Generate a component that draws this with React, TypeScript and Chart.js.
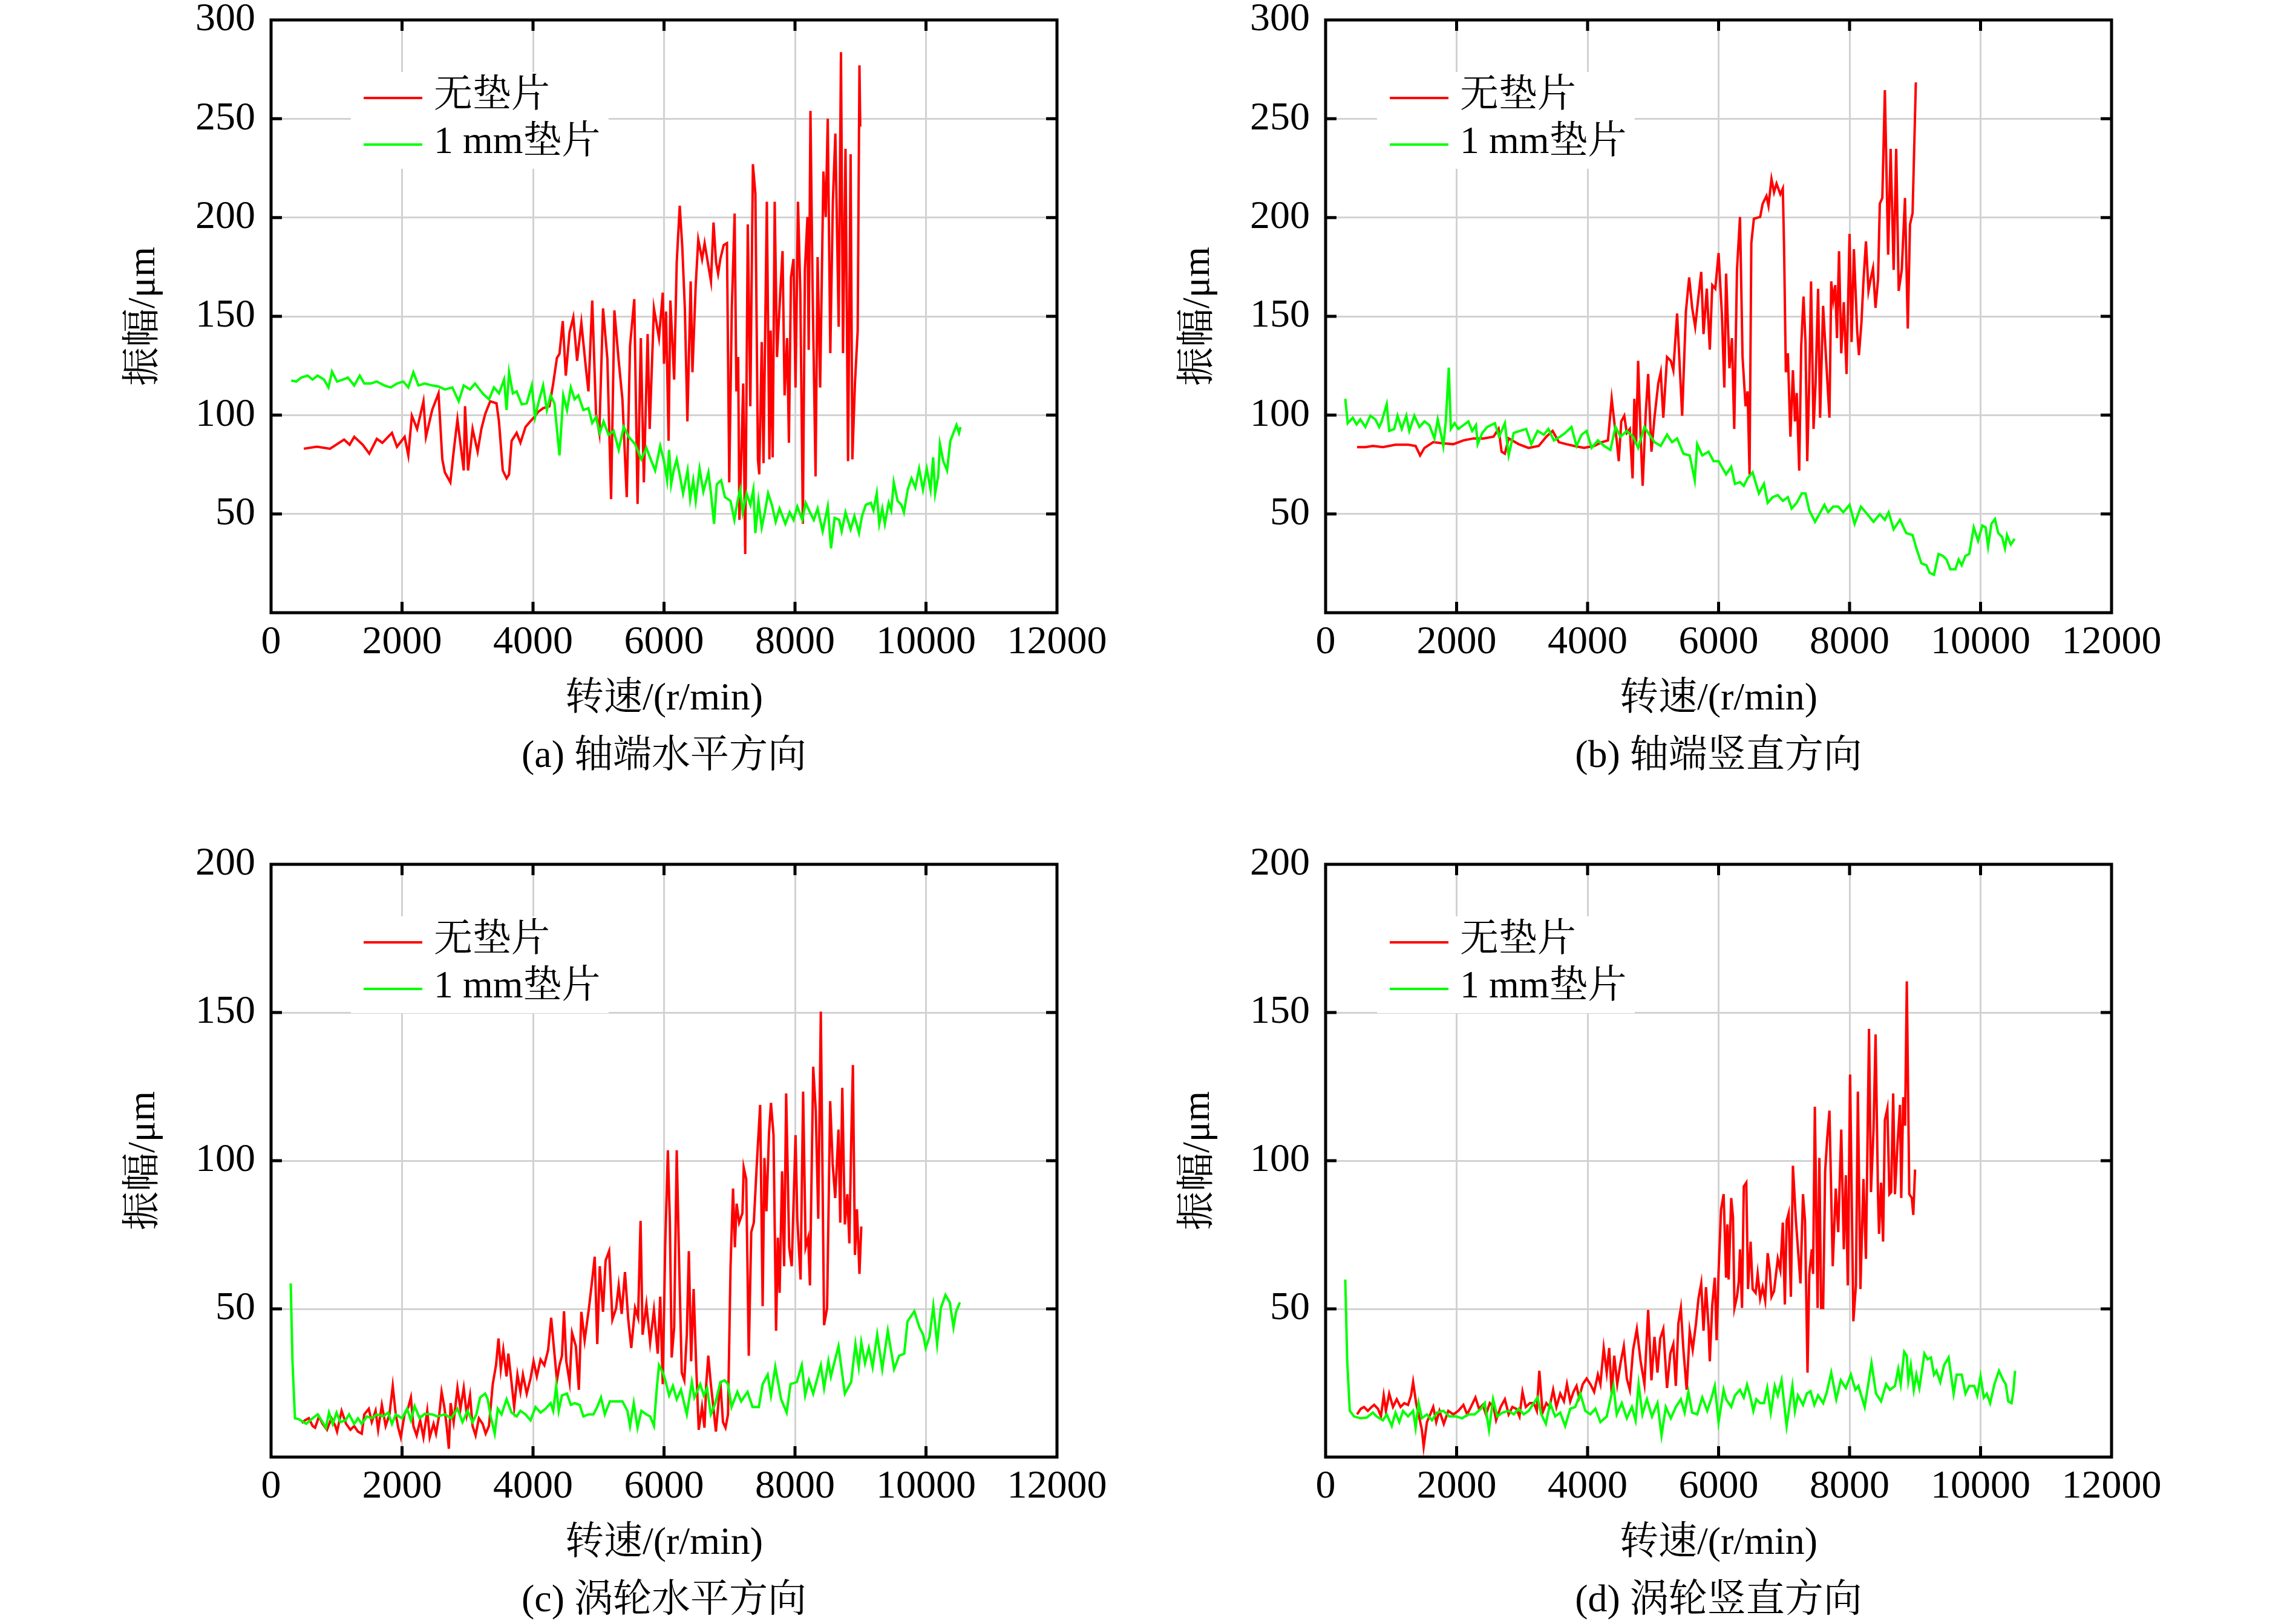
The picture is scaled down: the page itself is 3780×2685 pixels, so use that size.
import React, { useEffect, useRef } from 'react';
import { Chart, registerables } from 'chart.js';

Chart.register(...registerables);

// values: rotating speed (r/min) and amplitude (μm)

// (a) shaft end, horizontal
const A_RED_RPM = [500, 700, 900, 1115, 1200, 1270, 1400, 1500, 1615, 1700, 1846, 1923, 2040, 2096, 2150, 2230, 2327, 2365, 2460, 2557, 2615, 2654, 2738, 2788, 2846, 2942, 2962, 3008, 3077, 3154, 3211, 3270, 3346, 3442, 3480, 3538, 3596, 3634, 3673, 3750, 3808, 3885, 3962, 4019, 4077, 4154, 4250, 4308, 4365, 4404, 4454, 4500, 4558, 4615, 4673, 4738, 4808, 4846, 4904, 4962, 5012, 5069, 5135, 5192, 5242, 5308, 5365, 5431, 5481, 5546, 5596, 5646, 5692, 5750, 5781, 5846, 5923, 5981, 6000, 6031, 6070, 6097, 6155, 6194, 6240, 6279, 6318, 6357, 6407, 6434, 6484, 6523, 6581, 6620, 6678, 6717, 6756, 6795, 6826, 6860, 6911, 6961, 6996, 7035, 7078, 7105, 7132, 7151, 7182, 7209, 7240, 7279, 7318, 7357, 7395, 7434, 7454, 7492, 7519, 7570, 7609, 7628, 7659, 7690, 7725, 7775, 7810, 7841, 7880, 7907, 7938, 7977, 8008, 8046, 8081, 8120, 8151, 8190, 8209, 8236, 8267, 8314, 8345, 8384, 8434, 8469, 8500, 8539, 8578, 8616, 8667, 8702, 8733, 8771, 8810, 8849, 8876, 8915, 8957, 8984, 8996];
const A_RED_AMP = [83, 84, 83, 87.6, 85, 89, 85, 80.5, 88, 86, 91, 84, 89, 79.6, 99.7, 93, 107, 89, 102.6, 111, 77.6, 71, 66, 81.5, 97.8, 72, 104.5, 72, 93, 81.5, 93, 100.6, 107, 106, 96.8, 72, 68, 70, 87, 91, 86, 94, 97, 99, 101.6, 103.5, 104.5, 116, 129, 131, 147.6, 120, 142, 149.5, 127.5, 146.7, 123.6, 112, 158, 100.6, 91, 154, 128.5, 57.5, 153, 127.5, 108, 58.5, 135, 158.7, 55, 139, 66, 141, 93, 154, 139, 162, 126, 152.4, 87, 158, 118, 177.3, 206, 185, 154, 96.8, 167.7, 121.7, 165.8, 188.8, 179, 187, 175.4, 167.7, 197.5, 177.3, 171.6, 179, 186, 187, 66, 154, 202, 112, 129.4, 47, 81.5, 116, 29.7, 196.5, 104.5, 227, 212, 77.6, 70, 137, 75.7, 208, 77.6, 142.8, 78.6, 208, 129.4, 162, 183, 110, 139, 86, 169.7, 179, 114, 208, 162, 45, 173.5, 200.3, 133, 254, 167.7, 69, 180, 114, 223.3, 200.3, 250, 131.3, 208, 242.5, 144.7, 283.7, 131.3, 234.8, 76.7, 232, 77.6, 116, 142.8, 277, 246];
const A_GREEN_RPM = [308, 385, 460, 558, 635, 711, 808, 877, 931, 1008, 1096, 1173, 1270, 1354, 1423, 1519, 1615, 1731, 1827, 1923, 2019, 2096, 2173, 2250, 2346, 2461, 2557, 2654, 2769, 2865, 2942, 3038, 3115, 3231, 3327, 3404, 3481, 3558, 3596, 3634, 3692, 3750, 3827, 3904, 3981, 4031, 4096, 4154, 4212, 4269, 4327, 4404, 4462, 4519, 4577, 4635, 4692, 4769, 4846, 4904, 4962, 5019, 5077, 5154, 5231, 5308, 5385, 5462, 5558, 5654, 5731, 5808, 5865, 5942, 6000, 6047, 6078, 6109, 6147, 6194, 6233, 6291, 6360, 6399, 6446, 6484, 6543, 6601, 6678, 6717, 6764, 6806, 6872, 6930, 7015, 7074, 7124, 7163, 7202, 7260, 7318, 7364, 7395, 7442, 7492, 7539, 7589, 7647, 7705, 7764, 7853, 7919, 7977, 8035, 8112, 8163, 8229, 8287, 8345, 8422, 8500, 8550, 8605, 8674, 8713, 8771, 8849, 8907, 8977, 9023, 9081, 9159, 9198, 9248, 9287, 9333, 9372, 9430, 9469, 9508, 9566, 9624, 9663, 9721, 9779, 9837, 9895, 9954, 10012, 10070, 10109, 10140, 10186, 10213, 10264, 10322, 10372, 10419, 10465, 10504, 10527];
const A_GREEN_AMP = [117.5, 117, 119, 120, 118, 120, 118, 114, 122, 117, 118, 119, 115, 120, 116, 116, 117, 115, 114, 116, 117, 114, 121.7, 115, 116, 115, 114.5, 113, 114, 107, 115, 113, 116, 111, 108, 114, 111, 118, 102.6, 121.7, 111, 112, 105.5, 106, 115, 99, 108, 115, 102.6, 110, 106, 79.6, 110, 102.6, 114, 108, 110, 102.6, 103.5, 96, 99, 91, 96.8, 90, 92, 82.4, 94, 89, 85.3, 77.6, 83.4, 76.7, 72, 84.4, 76.7, 67, 82.4, 65, 72, 77.6, 71, 60.4, 72, 57.5, 67, 56.6, 72.9, 61.3, 71, 60.4, 45, 65, 67, 58.5, 56.6, 47, 56.6, 62.3, 50.8, 60.4, 54.6, 62.3, 40.3, 56.6, 43.2, 50.8, 60.4, 54.6, 46, 52.7, 45, 50.8, 47, 53.7, 47, 55.6, 50.8, 47, 52.7, 41.2, 53.7, 32.6, 48, 47, 41.2, 50.8, 42.2, 48.9, 40.3, 48.9, 54.6, 55.6, 51.8, 60.4, 45, 52.7, 45, 55.6, 51.8, 66, 56.6, 54.6, 50.8, 62.3, 68, 63.3, 72.9, 62.3, 72.9, 62.3, 78.6, 60.4, 69, 85.3, 76.7, 72, 87, 91, 95, 91, 94];

// (b) shaft end, vertical
const B_RED_RPM = [480, 607, 722, 875, 1067, 1259, 1374, 1443, 1509, 1643, 1797, 1950, 2104, 2257, 2411, 2564, 2641, 2687, 2737, 2795, 2948, 3100, 3255, 3370, 3466, 3562, 3677, 3793, 3946, 4100, 4215, 4311, 4368, 4407, 4445, 4476, 4514, 4560, 4599, 4645, 4687, 4714, 4741, 4772, 4810, 4841, 4887, 4925, 4975, 5021, 5079, 5117, 5156, 5213, 5271, 5309, 5367, 5444, 5501, 5551, 5597, 5643, 5693, 5735, 5770, 5820, 5866, 5904, 5950, 6000, 6050, 6088, 6115, 6166, 6204, 6239, 6281, 6327, 6366, 6412, 6443, 6473, 6500, 6539, 6635, 6673, 6731, 6762, 6808, 6847, 6885, 6943, 6981, 7000, 7027, 7058, 7097, 7135, 7166, 7193, 7231, 7262, 7297, 7327, 7354, 7385, 7412, 7450, 7481, 7520, 7550, 7596, 7643, 7693, 7720, 7750, 7781, 7808, 7839, 7873, 7912, 7954, 8000, 8031, 8066, 8116, 8143, 8181, 8212, 8250, 8289, 8327, 8358, 8396, 8435, 8462, 8500, 8539, 8589, 8627, 8673, 8712, 8750, 8797, 8846, 8889, 8923, 8962, 9012];
const B_RED_AMP = [83.8, 83.8, 84.4, 83.8, 85, 85, 84.4, 79.6, 83.4, 86.3, 85.7, 85.3, 87.2, 88.2, 88.2, 89.1, 93, 81.5, 80.5, 88.2, 85.3, 83.4, 84.4, 89.1, 92, 86.3, 85.3, 84.4, 83.4, 84.4, 86.3, 87.2, 108.3, 96.8, 87.2, 76.7, 96.8, 99.7, 91, 93, 68, 108.3, 85.3, 127.5, 89.1, 64.2, 100.6, 120.8, 81.5, 98.7, 116, 121.7, 98.7, 129.4, 127.5, 122.7, 151.4, 99.7, 152.4, 169.7, 154.3, 144.7, 160, 172.5, 141, 164, 133.2, 165.8, 164, 182, 151.4, 114, 171.6, 123.7, 139, 93, 173.5, 200.3, 129.4, 104.5, 112, 70, 187, 199.4, 200.3, 207, 210.9, 206, 219.5, 212.8, 217.2, 211.8, 214.7, 185, 121.7, 131.3, 89.1, 122.7, 96.8, 111.2, 71.9, 135.2, 160, 137, 76.7, 117.9, 167.7, 93, 116, 163.9, 98.7, 155.3, 127.5, 98.7, 167.7, 158, 165.8, 139, 183, 131.3, 157.2, 120.8, 191.7, 137, 184, 142.8, 130.4, 146.7, 167.7, 187.9, 162.9, 169.7, 174.4, 154.3, 168.7, 207, 209.9, 264.5, 181.2, 234.8, 173.5, 234.8, 162.9, 173.5, 209.9, 143.8, 196.5, 202.2, 268.4];
const B_GREEN_RPM = [300, 338, 415, 472, 530, 607, 683, 760, 818, 856, 933, 971, 1048, 1098, 1163, 1232, 1278, 1355, 1432, 1509, 1585, 1662, 1712, 1758, 1797, 1835, 1881, 1912, 1969, 2027, 2104, 2180, 2238, 2295, 2322, 2392, 2468, 2584, 2649, 2737, 2795, 2872, 2967, 3063, 3140, 3236, 3332, 3401, 3486, 3581, 3658, 3754, 3831, 3908, 3985, 4061, 4157, 4253, 4349, 4426, 4503, 4599, 4695, 4772, 4868, 4944, 5021, 5117, 5213, 5290, 5367, 5463, 5559, 5636, 5674, 5751, 5847, 5923, 6000, 6115, 6193, 6250, 6327, 6385, 6443, 6520, 6616, 6693, 6750, 6827, 6904, 6981, 7058, 7116, 7193, 7270, 7327, 7385, 7473, 7539, 7616, 7673, 7750, 7827, 7904, 8000, 8077, 8173, 8270, 8366, 8462, 8539, 8596, 8673, 8770, 8866, 8962, 9020, 9097, 9173, 9223, 9289, 9358, 9423, 9481, 9539, 9616, 9666, 9712, 9770, 9827, 9896, 9962, 10027, 10077, 10116, 10166, 10220, 10270, 10327, 10373, 10404, 10462, 10520];
const B_GREEN_AMP = [108.3, 95.9, 98.7, 95.3, 97.8, 94, 99.7, 97.8, 94, 96.8, 105.5, 92, 93, 99.7, 93, 99.7, 92, 99.7, 94, 96.8, 94.9, 88.2, 97.8, 91, 84.4, 96.8, 124, 93, 95.9, 93, 94.9, 96.8, 92, 94.9, 85.3, 91, 94, 95.9, 89.1, 95.9, 79.6, 91, 92, 93, 85.3, 92, 90.1, 93, 87.2, 89.1, 91, 94, 84.4, 90.1, 92, 83.4, 87.2, 84.4, 82.4, 94, 89.1, 92, 89.1, 83.4, 94, 90.1, 86.3, 84.4, 90.1, 86.3, 88.2, 80.5, 79.6, 67.1, 85.3, 79.6, 81.5, 76.7, 76.7, 70, 73.8, 65.2, 66.1, 64.2, 68.1, 71, 60.4, 65.2, 55.6, 58.5, 59.5, 56.6, 58.5, 52.7, 55.6, 60.4, 60.4, 51.8, 46, 49.9, 54.6, 50.8, 53.7, 53.7, 50.8, 54.6, 45, 53.7, 49.9, 46, 49.9, 47, 50.8, 42.2, 47, 40.3, 39.3, 32.6, 25, 24, 20.2, 19.2, 29.7, 28.8, 26.9, 22, 22, 26.9, 24, 28.8, 29.7, 43.2, 36.4, 44.1, 43.2, 33.6, 45, 47.4, 40.3, 38.4, 32.6, 39.3, 34.5, 37.4];

// (c) turbine end, horizontal
const C_RED_RPM = [469, 519, 577, 635, 673, 731, 788, 854, 923, 981, 1008, 1077, 1146, 1212, 1269, 1327, 1385, 1423, 1492, 1538, 1596, 1635, 1692, 1750, 1808, 1858, 1904, 1942, 1981, 2038, 2096, 2135, 2173, 2223, 2277, 2327, 2385, 2423, 2481, 2519, 2569, 2604, 2646, 2681, 2715, 2742, 2788, 2846, 2892, 2942, 2988, 3038, 3077, 3123, 3173, 3231, 3277, 3327, 3385, 3435, 3473, 3508, 3546, 3596, 3623, 3662, 3712, 3762, 3808, 3846, 3904, 3962, 4008, 4058, 4115, 4173, 4231, 4277, 4327, 4365, 4404, 4442, 4473, 4508, 4558, 4596, 4654, 4700, 4738, 4788, 4854, 4904, 4942, 4981, 5019, 5069, 5108, 5162, 5212, 5269, 5308, 5354, 5404, 5454, 5500, 5558, 5604, 5642, 5673, 5731, 5788, 5846, 5904, 5942, 5981, 6019, 6059, 6089, 6117, 6155, 6194, 6232, 6271, 6310, 6348, 6379, 6414, 6452, 6491, 6530, 6580, 6618, 6645, 6676, 6715, 6753, 6792, 6831, 6861, 6900, 6939, 6977, 7016, 7054, 7082, 7109, 7147, 7197, 7217, 7255, 7294, 7332, 7371, 7417, 7468, 7506, 7533, 7564, 7603, 7633, 7672, 7711, 7738, 7765, 7803, 7834, 7865, 7911, 7950, 8008, 8035, 8085, 8124, 8162, 8201, 8228, 8278, 8317, 8355, 8394, 8444, 8490, 8537, 8575, 8614, 8664, 8691, 8722, 8761, 8799, 8830, 8857, 8884, 8915, 8946, 8984, 9012];
const C_RED_AMP = [11.5, 12.4, 13.1, 10.5, 9.9, 13.7, 11.2, 9.2, 13.1, 10.5, 8.6, 15.6, 11.2, 9.2, 10.5, 8.6, 7.9, 14.4, 16.3, 11.8, 15.6, 9.2, 17.6, 10.5, 14.4, 24, 14.4, 9.9, 6.7, 14.4, 16.9, 20.1, 10.5, 7.3, 12.4, 6.7, 15.6, 6.7, 11.2, 7.9, 14.4, 22, 16.9, 10.5, 2.8, 18.2, 11.8, 23.3, 16.3, 23.3, 14.4, 20.8, 10.5, 7.3, 13.1, 11.2, 7.9, 10.5, 24.6, 31, 40, 29.7, 36.2, 27.2, 34.9, 27.2, 16.9, 27.8, 22, 27.8, 21.4, 26.5, 32.3, 27.2, 32.9, 31, 36.2, 47, 34.9, 25.9, 31, 34.2, 49.2, 32.3, 25.3, 41.9, 37.4, 22.7, 49, 39.4, 50.3, 59.9, 67.6, 38.1, 64.4, 49, 66.3, 69.5, 46.4, 50.3, 57.9, 48.3, 62.4, 46.4, 36.8, 50.3, 47, 79.7, 41.3, 51.5, 38.7, 49.6, 34.9, 54.1, 24.6, 72.1, 103.5, 79.7, 33.6, 43.8, 103.5, 64.4, 28.5, 25.9, 41.3, 69.5, 32.3, 56.7, 31, 9.2, 16.9, 9.9, 24.6, 34.2, 24.6, 16.9, 8.6, 18.2, 25.3, 11.8, 9.9, 14.4, 64.4, 90.6, 70.8, 85.5, 79.1, 82.3, 97.7, 93.8, 34.2, 75.9, 79.1, 99, 118.8, 50.9, 100.9, 82.9, 109.2, 119.5, 108.6, 42.6, 74, 55.4, 96.4, 64.4, 122.7, 70.8, 64.4, 108.6, 80.4, 59.9, 123.3, 70.8, 74, 57.9, 131.7, 116.9, 80.4, 150.3, 44.5, 50.3, 120.1, 99, 87.4, 110.5, 79.1, 124.6, 78.5, 88.7, 72.1, 105.4, 132.3, 68.2, 83.6, 61.8, 77.8];
const C_GREEN_RPM = [300, 327, 365, 423, 538, 635, 711, 788, 838, 885, 942, 1000, 1058, 1135, 1192, 1269, 1327, 1385, 1462, 1538, 1615, 1712, 1788, 1846, 1904, 2000, 2077, 2135, 2192, 2269, 2346, 2462, 2538, 2654, 2750, 2846, 2923, 3000, 3077, 3135, 3192, 3269, 3308, 3354, 3415, 3462, 3519, 3596, 3673, 3750, 3808, 3885, 3962, 4038, 4115, 4192, 4269, 4308, 4354, 4392, 4442, 4519, 4577, 4635, 4712, 4769, 4846, 4923, 4981, 5038, 5096, 5173, 5269, 5365, 5442, 5481, 5538, 5596, 5654, 5731, 5788, 5846, 5885, 5923, 5981, 6019, 6078, 6136, 6194, 6259, 6348, 6425, 6464, 6553, 6607, 6657, 6715, 6784, 6861, 6927, 6977, 7031, 7120, 7178, 7275, 7352, 7448, 7506, 7583, 7633, 7699, 7788, 7873, 7931, 8027, 8104, 8155, 8212, 8278, 8394, 8444, 8510, 8548, 8598, 8664, 8761, 8857, 8923, 8973, 9012, 9069, 9127, 9185, 9255, 9332, 9417, 9513, 9590, 9668, 9718, 9822, 9899, 9957, 9996, 10054, 10112, 10170, 10227, 10297, 10363, 10420, 10459, 10517];
const C_GREEN_AMP = [58.6, 32.3, 13.1, 12.8, 11.2, 13.1, 14.4, 11.8, 9.9, 15, 11.2, 15, 11.8, 12.4, 14.4, 11.2, 13.1, 11.2, 13.7, 13.1, 14.4, 13.7, 15, 11.2, 14.4, 13.1, 16.3, 12.4, 17.2, 13.1, 14.6, 14.4, 13.7, 14.4, 13.1, 16.3, 11.8, 15.6, 11.8, 14.4, 20.1, 21.4, 19.5, 13.7, 7.9, 16.3, 14.4, 19.5, 15, 13.7, 15.6, 14.4, 12.4, 16.9, 15, 16.3, 18.2, 15.6, 24, 15.6, 20.8, 21.4, 17.6, 18.2, 17.6, 13.7, 14.4, 14.4, 16.9, 20.1, 14.4, 18.8, 18.8, 18.8, 15.6, 10.5, 18.2, 9.9, 15.6, 14.4, 13.7, 10.5, 22, 31, 28.5, 25.9, 20.8, 24, 19.5, 22.7, 14.4, 25.3, 20.1, 24.6, 20.8, 23.3, 14.4, 18.2, 25.3, 25.9, 24.6, 16.9, 22, 18.8, 22, 16.9, 16.9, 24.6, 27.8, 20.8, 30.4, 19.5, 15, 24.6, 25.3, 31, 20.8, 25.9, 21.4, 31, 23.3, 32.3, 27.2, 31.7, 37.4, 21.4, 25.3, 38.1, 30.4, 38.7, 31.7, 36.8, 30.4, 41.3, 29.7, 42.6, 29.7, 34.2, 34.9, 45.8, 49.2, 43.8, 41.3, 36.8, 40.6, 50.9, 38.1, 50.3, 54.7, 52.2, 43.8, 49, 52.2];

// (d) turbine end, vertical
const D_RED_RPM = [480, 538, 587, 645, 702, 741, 799, 845, 887, 921, 971, 1029, 1086, 1144, 1202, 1259, 1305, 1336, 1382, 1432, 1470, 1497, 1547, 1597, 1643, 1689, 1739, 1804, 1873, 1950, 2027, 2104, 2161, 2219, 2288, 2342, 2399, 2449, 2507, 2564, 2603, 2672, 2737, 2795, 2852, 2910, 2960, 3006, 3056, 3121, 3178, 3225, 3263, 3313, 3370, 3420, 3474, 3524, 3582, 3639, 3685, 3735, 3785, 3831, 3870, 3927, 3985, 4042, 4100, 4157, 4196, 4246, 4292, 4330, 4368, 4407, 4453, 4503, 4553, 4599, 4645, 4695, 4752, 4810, 4868, 4925, 4975, 5021, 5067, 5109, 5156, 5213, 5263, 5309, 5347, 5386, 5424, 5463, 5513, 5559, 5605, 5655, 5693, 5735, 5770, 5808, 5847, 5866, 5904, 5942, 5970, 6000, 6038, 6077, 6115, 6135, 6154, 6193, 6220, 6243, 6281, 6308, 6327, 6358, 6385, 6423, 6450, 6489, 6520, 6566, 6597, 6635, 6673, 6712, 6750, 6781, 6808, 6847, 6904, 6943, 6981, 7012, 7039, 7070, 7104, 7135, 7181, 7250, 7289, 7320, 7358, 7385, 7423, 7443, 7470, 7512, 7539, 7566, 7597, 7627, 7658, 7693, 7743, 7789, 7827, 7873, 7912, 7943, 7973, 8008, 8058, 8097, 8127, 8166, 8212, 8250, 8297, 8327, 8366, 8397, 8435, 8450, 8481, 8512, 8539, 8577, 8608, 8635, 8666, 8693, 8731, 8770, 8789, 8820, 8847, 8874, 8912, 8950, 8973, 9000];
const D_RED_AMP = [14.4, 16.3, 16.9, 15.6, 16.9, 17.6, 16.3, 13.7, 20.8, 15.6, 21.4, 16.9, 19.5, 16.9, 18.2, 17.6, 20.8, 25.3, 18.2, 13.1, 9.2, 3.5, 11.8, 14.4, 16.9, 11.8, 15.6, 11.2, 15.6, 14.4, 15.6, 17.6, 14.4, 16.9, 20.1, 16.3, 17.6, 14.4, 18.2, 16.9, 12.4, 16.9, 19.5, 14.4, 16.9, 16.3, 13.7, 22, 16.9, 18.2, 18.2, 15.6, 29.1, 15, 18.2, 16.9, 22.7, 16.9, 21.4, 18.8, 24.6, 18.8, 22, 24, 20.1, 24.6, 26.5, 24.6, 22, 27.8, 24.6, 36.8, 28.5, 36.8, 21.4, 34.2, 24.6, 31.7, 37.4, 26.5, 22.7, 36.2, 43.2, 32.3, 24.6, 49.6, 25.9, 40.6, 28.5, 40, 43.2, 23.3, 34.9, 38.1, 24, 45.1, 50.3, 36.2, 22.7, 42.6, 36.2, 45.1, 53.5, 58.6, 42.6, 57.3, 43.8, 32.3, 51.5, 60.5, 39.4, 62.4, 83.6, 88.7, 60.5, 78.5, 59.9, 87.4, 81, 50.3, 54.1, 59.2, 70.1, 50.3, 91.3, 92.6, 56.7, 72.7, 56.7, 55.4, 61.8, 53.5, 57.3, 52.8, 68.8, 63.1, 54.1, 56, 66.9, 63.1, 79.1, 51.5, 79.7, 82.3, 54.1, 98.3, 79.7, 58.6, 88.7, 79.7, 28.5, 61.8, 70.1, 61.8, 118.2, 50.3, 100.9, 50.3, 50.3, 96.4, 107.3, 116.9, 64.4, 90.6, 75.9, 110.5, 70.1, 95.1, 57.9, 129.1, 45.8, 57.9, 123.3, 56.7, 93.8, 66.9, 144.5, 89.4, 110.5, 142.6, 87.4, 75.3, 92.6, 72.7, 113.7, 117.6, 88.7, 89.4, 122.7, 88.7, 105.4, 118.8, 87.4, 121.4, 111.8, 160.5, 88.7, 87.4, 81.7, 97];
const D_GREEN_RPM = [300, 330, 369, 434, 530, 626, 722, 779, 875, 933, 1010, 1067, 1125, 1182, 1259, 1336, 1374, 1420, 1470, 1547, 1624, 1700, 1797, 1892, 1989, 2084, 2180, 2276, 2372, 2430, 2495, 2557, 2622, 2699, 2795, 2872, 2948, 3025, 3102, 3178, 3236, 3294, 3363, 3428, 3505, 3582, 3658, 3735, 3812, 3889, 3965, 4042, 4119, 4196, 4292, 4349, 4395, 4445, 4522, 4599, 4676, 4733, 4779, 4837, 4906, 4983, 5067, 5129, 5194, 5271, 5348, 5424, 5482, 5539, 5597, 5674, 5751, 5827, 5885, 5942, 6000, 6077, 6115, 6193, 6250, 6327, 6385, 6435, 6481, 6531, 6577, 6635, 6693, 6743, 6797, 6858, 6904, 6962, 7039, 7127, 7166, 7212, 7289, 7347, 7404, 7462, 7520, 7597, 7654, 7720, 7797, 7866, 7943, 8020, 8089, 8135, 8231, 8335, 8404, 8481, 8558, 8616, 8693, 8743, 8781, 8835, 8873, 8897, 8935, 8981, 9020, 9066, 9143, 9193, 9243, 9289, 9327, 9385, 9443, 9512, 9589, 9635, 9712, 9770, 9827, 9904, 9950, 10000, 10050, 10096, 10146, 10212, 10281, 10347, 10385, 10423, 10473, 10500, 10527];
const D_GREEN_AMP = [59.9, 32.3, 15.6, 13.7, 13.1, 13.3, 15, 13.7, 12.4, 14.4, 10.5, 15, 11.8, 15.6, 13.7, 15.6, 9.9, 18.2, 13.1, 14.4, 12.4, 15, 15.6, 13.7, 13.7, 13.1, 14.4, 14.4, 16.3, 18.2, 9.2, 19.5, 13.7, 15, 15.6, 14.4, 16.3, 14.4, 15.6, 18.2, 20.1, 14.4, 11.2, 18.2, 13.7, 15, 10.5, 16.3, 16.9, 21.4, 15.6, 14.4, 16.3, 11.8, 13.7, 19.5, 24, 14.4, 18.2, 13.1, 16.9, 12.4, 24.6, 14.4, 19.5, 13.7, 18.2, 7.3, 16.9, 13.1, 16.9, 19.5, 15, 22, 15, 14.4, 20.1, 15.6, 19.5, 24, 11.8, 22.7, 19.5, 16.9, 20.8, 22.7, 20.1, 24.4, 20.8, 15.6, 19.5, 18.2, 18.2, 23.3, 15, 24, 20.8, 25.9, 10.5, 24, 15.6, 20.8, 17.6, 21.4, 22.2, 17.6, 20.8, 18.2, 22, 28.5, 19.5, 25.9, 23.3, 27.8, 22.7, 24, 16.9, 31.7, 21.4, 18.8, 24.6, 22.7, 24, 29.7, 24.6, 35.5, 34.2, 25.9, 31, 22.7, 27.8, 23.3, 34.9, 33, 33.6, 27.8, 29.1, 25.3, 31, 33.6, 21.4, 27.8, 27.8, 21.4, 24, 24, 20.8, 27.2, 20.1, 21.4, 18.2, 24.6, 29.1, 25.9, 24.6, 18.8, 18.2, 22, 29.1];

const SERIES_LABELS = ['无垫片', '1 mm垫片'];
const CAPTIONS = ['(a) 轴端水平方向', '(b) 轴端竖直方向', '(c) 涡轮水平方向', '(d) 涡轮竖直方向'];
const X_TITLE = '转速/(r/min)';
const Y_TITLE = '振幅/μm';

const SERIF = '"Liberation Serif", "Times New Roman", serif';
const SERIF_CJK = '"Liberation Serif", "Times New Roman", "Noto Serif CJK SC", "Noto Sans CJK SC", serif';

const toPoints = (xs: number[], ys: number[]) => xs.map((x, i) => ({ x, y: ys[i] }));

// frame with inward ticks on all four sides + boxed legend inside the plot
const framePlugin = {
  id: 'frameLegend',
  afterDraw(chart: any, _args: any, opts: any) {
    const { ctx, chartArea } = chart;
    const { left, top, right, bottom } = chartArea;
    const xs = chart.scales.x;
    const ys = chart.scales.y;
    ctx.save();
    ctx.strokeStyle = '#000';
    ctx.lineWidth = 5;
    ctx.beginPath();
    xs.ticks.forEach((t: any) => {
      const p = xs.getPixelForValue(t.value);
      if (p <= left + 2 || p >= right - 2) return;
      ctx.moveTo(p, top);
      ctx.lineTo(p, top + 18);
      ctx.moveTo(p, bottom);
      ctx.lineTo(p, bottom - 18);
    });
    ys.ticks.forEach((t: any) => {
      const p = ys.getPixelForValue(t.value);
      if (p <= top + 2 || p >= bottom - 2) return;
      ctx.moveTo(left, p);
      ctx.lineTo(left + 18, p);
      ctx.moveTo(right, p);
      ctx.lineTo(right - 18, p);
    });
    ctx.stroke();
    ctx.strokeRect(left, top, right - left, bottom - top);

    const lx = left + opts.legendX;
    ctx.fillStyle = '#fff';
    ctx.fillRect(lx - 21, top + 86, 426, 160);
    ctx.font = `64px ${SERIF_CJK}`;
    ctx.textBaseline = 'middle';
    ctx.textAlign = 'left';
    chart.data.datasets.forEach((ds: any, i: number) => {
      const ly = top + 129 + i * 77;
      ctx.strokeStyle = ds.borderColor;
      ctx.lineWidth = 4;
      ctx.beginPath();
      ctx.moveTo(lx, ly);
      ctx.lineTo(lx + 97, ly);
      ctx.stroke();
      ctx.fillStyle = '#000';
      ctx.fillText(ds.label, lx + 116, ly - 3);
    });
    ctx.restore();
  },
};

interface PanelProps {
  left: number;
  top: number;
  redX: number[];
  redY: number[];
  greenX: number[];
  greenY: number[];
  yMax: number;
  caption: string;
  legendX: number;
}

const Panel: React.FC<PanelProps> = ({ left, top, redX, redY, greenX, greenY, yMax, caption, legendX }) => {
  const canvasRef = useRef<HTMLCanvasElement>(null);

  useEffect(() => {
    if (!canvasRef.current) return;
    const tickFont = { family: SERIF, size: 66, lineHeight: 1 };
    const titleFont = { family: SERIF_CJK, size: 64, lineHeight: 1.25, weight: 'normal' as const };
    const chart = new Chart(canvasRef.current, {
      type: 'line',
      data: {
        datasets: [
          {
            label: SERIES_LABELS[0],
            data: toPoints(redX, redY),
            borderColor: '#ff0000',
            borderWidth: 4,
            pointRadius: 0,
            tension: 0,
            order: 1,
          },
          {
            label: SERIES_LABELS[1],
            data: toPoints(greenX, greenY),
            borderColor: '#00ff00',
            borderWidth: 4,
            pointRadius: 0,
            tension: 0,
            order: 0,
          },
        ],
      },
      options: {
        animation: false,
        responsive: true,
        maintainAspectRatio: false,
        devicePixelRatio: 1,
        layout: { padding: { top: 33, right: 103, bottom: 0, left: 0 } },
        plugins: {
          legend: { display: false },
          tooltip: { enabled: false },
          title: {
            display: true,
            position: 'bottom',
            fullSize: false,
            text: caption,
            color: '#000',
            font: titleFont,
            padding: { top: 15, bottom: 0 },
          },
          frameLegend: { legendX },
        } as any,
        scales: {
          x: {
            type: 'linear',
            min: 0,
            max: 12000,
            ticks: {
              stepSize: 2000,
              color: '#000',
              font: tickFont,
              padding: 17,
              maxRotation: 0,
              autoSkip: false,
              callback: (v: any) => String(v),
            },
            grid: { color: '#d2d2d2', lineWidth: 3, drawTicks: false },
            border: { display: false },
            title: { display: true, text: X_TITLE, color: '#000', font: titleFont, padding: { top: 0, bottom: 0 } },
            afterFit: (s: any) => {
              s.height = 183;
              s.paddingLeft = 0;
              s.paddingRight = 0;
            },
          },
          y: {
            type: 'linear',
            min: 0,
            max: yMax,
            ticks: {
              stepSize: 50,
              color: '#000',
              font: tickFont,
              padding: 26,
              callback: (v: any) => (v === 0 ? '' : String(v)),
            },
            grid: { color: '#d2d2d2', lineWidth: 3, drawTicks: false },
            border: { display: false },
            title: { display: true, text: Y_TITLE, color: '#000', font: titleFont, padding: { top: 48, bottom: 0 } },
            afterFit: (s: any) => {
              s.width = 298;
              s.paddingTop = 0;
              s.paddingBottom = 0;
            },
          },
        },
      },
      plugins: [framePlugin],
    });
    return () => chart.destroy();
  }, [left, top, redX, redY, greenX, greenY, yMax, caption, legendX]);

  return (
    <div style={{ position: 'absolute', left, top, width: 1700, height: 1291 }}>
      <canvas ref={canvasRef}></canvas>
    </div>
  );
};

const App: React.FC = () => {
  return (
    <div
      style={{
        position: 'fixed',
        left: 0,
        top: 0,
        width: 3780,
        height: 2685,
        background: '#fff',
        overflow: 'hidden',
      }}
    >
      <Panel left={150} top={0} redX={A_RED_RPM} redY={A_RED_AMP} greenX={A_GREEN_RPM} greenY={A_GREEN_AMP} yMax={300} caption={CAPTIONS[0]} legendX={153} />
      <Panel left={1893} top={0} redX={B_RED_RPM} redY={B_RED_AMP} greenX={B_GREEN_RPM} greenY={B_GREEN_AMP} yMax={300} caption={CAPTIONS[1]} legendX={106} />
      <Panel left={150} top={1396} redX={C_RED_RPM} redY={C_RED_AMP} greenX={C_GREEN_RPM} greenY={C_GREEN_AMP} yMax={200} caption={CAPTIONS[2]} legendX={153} />
      <Panel left={1893} top={1396} redX={D_RED_RPM} redY={D_RED_AMP} greenX={D_GREEN_RPM} greenY={D_GREEN_AMP} yMax={200} caption={CAPTIONS[3]} legendX={106} />
    </div>
  );
};

export default App;
